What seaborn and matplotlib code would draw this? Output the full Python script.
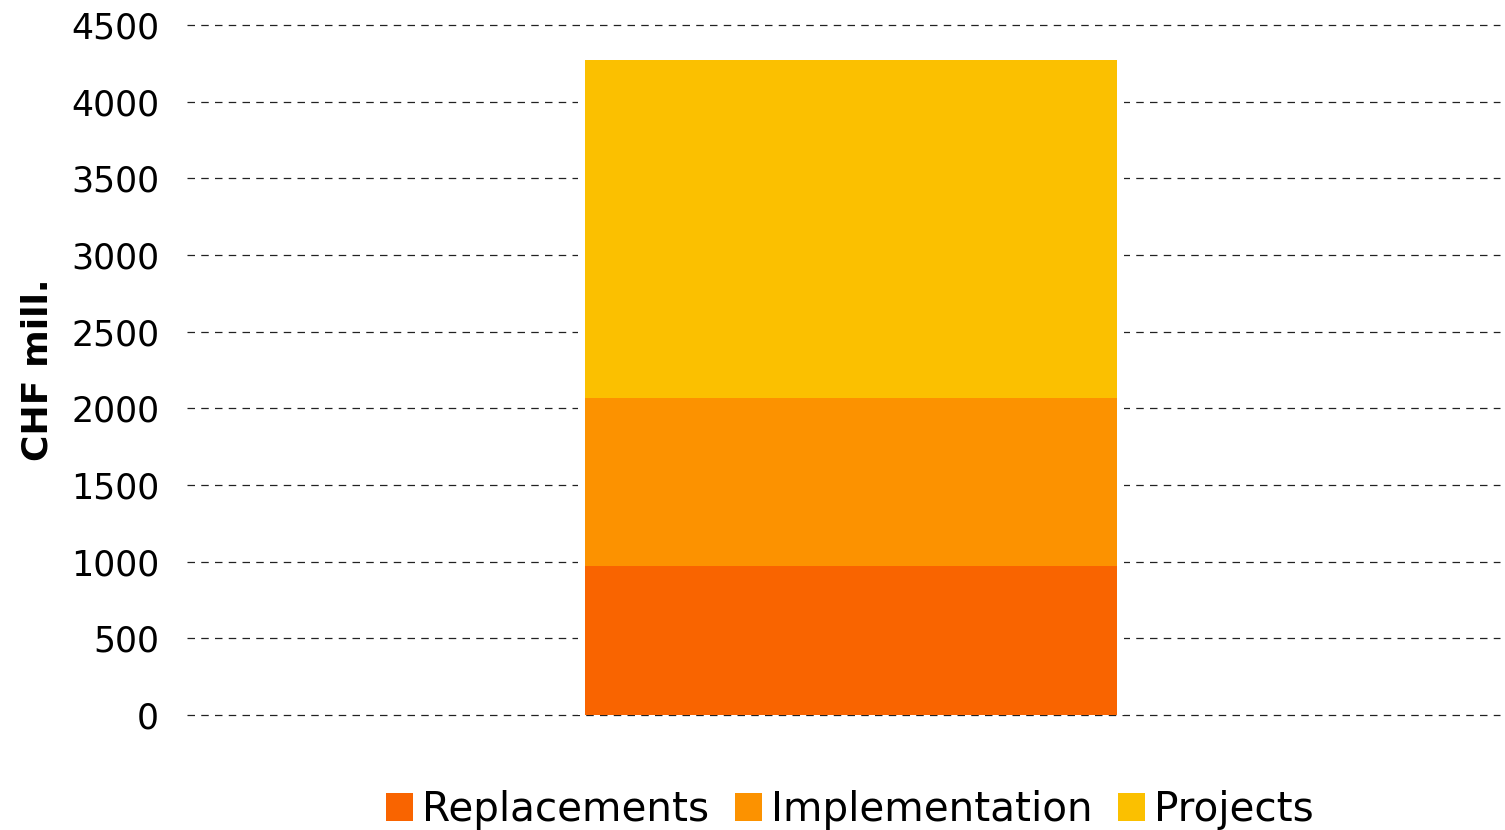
import matplotlib
matplotlib.use("Agg")
import matplotlib.pyplot as plt
from matplotlib.patches import Patch
import seaborn as sns
import pandas as pd

# Investment breakdown (CHF mill.), stacked in one column
segments = ["Replacements", "Implementation", "Projects"]
values = [970, 1100, 2200]
colors = ["#F96400", "#FC9200", "#FBC000"]
y_ticks = [0, 500, 1000, 1500, 2000, 2500, 3000, 3500, 4000, 4500]

sns.set_theme(style="white")
plt.rcParams["font.family"] = ["DejaVu Sans"]
plt.rcParams["text.color"] = "black"
plt.rcParams["ytick.color"] = "black"
plt.rcParams["axes.labelcolor"] = "black"

fig = plt.figure(figsize=(15.05, 8.3), dpi=100)
ax = fig.add_axes([187 / 1505, 1 - 715 / 830, 1313 / 1505, 690 / 830])

# cumulative tops so each segment is drawn from the back forward
tops = []
running = 0
for v in values:
    running += v
    tops.append(running)

df = pd.DataFrame({"cat": ["all"] * len(segments), "segment": segments, "top": tops})

# white halo behind the column so the grid stops short of it
sns.barplot(data=df.iloc[[-1]], x="cat", y="top", color="white", width=0.82,
            ax=ax, zorder=2, edgecolor="none", saturation=1)
for i in range(len(segments) - 1, -1, -1):
    sns.barplot(data=df.iloc[[i]], x="cat", y="top", color=colors[i], width=0.8,
                ax=ax, zorder=3, edgecolor="none", saturation=1)

ax.set_ylim(0, 4500)
ax.set_xlim(-0.9985, 0.976)
ax.set_yticks(y_ticks)
ax.set_yticklabels([str(t) for t in y_ticks], fontsize=25)
ax.set_xticks([])
ax.set_xlabel("")
ax.set_ylabel("CHF mill.", fontsize=26, fontweight="bold", labelpad=12)
ax.yaxis.grid(True, linestyle=(0, (6, 5)), color="#222222", linewidth=0.9, zorder=1)
for gl in ax.get_ygridlines():
    gl.set_clip_on(False)
ax.set_axisbelow(True)
ax.tick_params(axis="y", length=0, pad=20)
for s in ax.spines.values():
    s.set_visible(False)

handles = [Patch(facecolor=c, edgecolor="none") for c in colors]
fig.legend(handles, segments, loc="center", bbox_to_anchor=(850 / 1505, 1 - 810 / 830),
           ncol=3, frameon=False, fontsize=29.2, handlelength=0.68, handleheight=0.68,
           handletextpad=0.22, columnspacing=0.62, borderpad=0)

fig.savefig("out.png", dpi=100)
